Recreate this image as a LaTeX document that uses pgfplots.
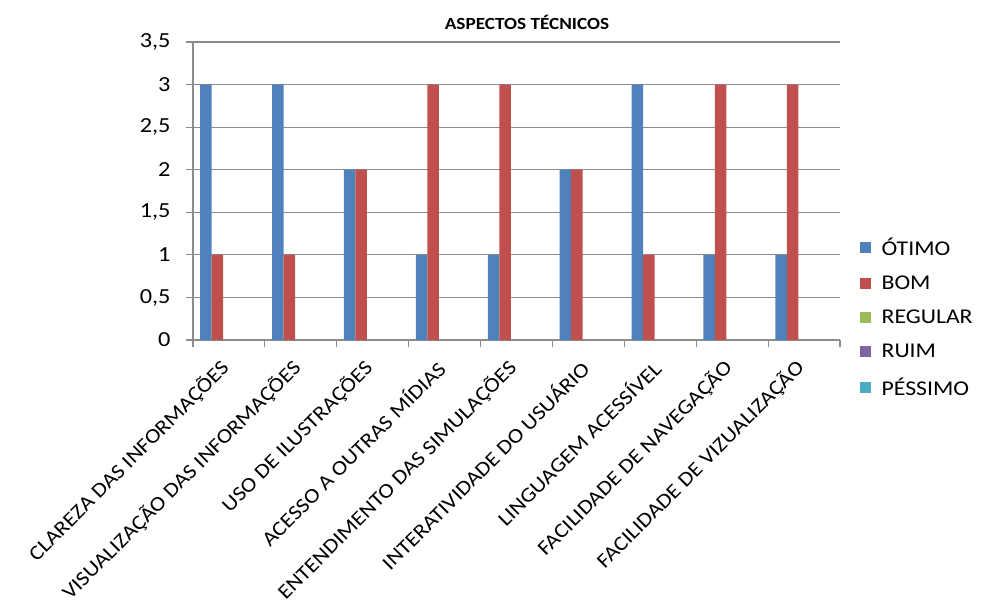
\documentclass[border=0pt]{standalone}
\usepackage{fontspec}
\setmainfont{Carlito}[FakeStretch=1.13]
\usepackage{pgfplots}
\pgfplotsset{compat=1.18}
\definecolor{cA}{HTML}{4F81BD}
\definecolor{cB}{HTML}{C0504D}
\definecolor{cC}{HTML}{9BBB59}
\definecolor{cD}{HTML}{8064A2}
\definecolor{cE}{HTML}{4BACC6}
\definecolor{gridc}{HTML}{8C8C8C}
\pgfplotsset{myleg/.style={legend image code/.code={\fill[##1] (0pt,-5.5pt) rectangle (11pt,5.5pt); \path (0pt,0pt) (20pt,0pt);}}}
\begin{document}
\begin{tikzpicture}[x=1pt,y=1pt]
\useasboundingbox (0,0) rectangle (981,603);
\begin{axis}[
  at={(193pt,263pt)}, anchor=south west,
  width=647pt, height=298pt, scale only axis,
  xmin=0.5, xmax=9.5, ymin=0, ymax=3.5,
  ybar=0pt, bar width=11.5pt,
  axis x line*=bottom, axis y line*=left,
  axis line style={gridc, line width=1.2pt, -},
  ytick={0,0.5,1,1.5,2,2.5,3,3.5},
  ymajorgrids, grid style={gridc, line width=1.2pt},
  tick align=outside, major tick length=7pt,
  tick style={gridc, line width=1.2pt},
  xtick={0.5,1.5,2.5,3.5,4.5,5.5,6.5,7.5,8.5,9.5},
  x tick label as interval,
  xticklabels={CLAREZA DAS INFORMAÇÕES, VISUALIZAÇÃO DAS INFORMAÇÕES, USO DE ILUSTRAÇÕES, ACESSO A OUTRAS MÍDIAS, ENTENDIMENTO DAS SIMULAÇÕES, INTERATIVIDADE DO USUÁRIO, LINGUAGEM ACESSÍVEL, FACILIDADE DE NAVEGAÇÃO, FACILIDADE DE VIZUALIZAÇÃO},
  xticklabel style={xshift=-1pt, yshift=-15pt, rotate=45, anchor=east, font=\fontsize{20.5}{20.5}\selectfont, text=black},
  /pgf/number format/use comma,
  /pgf/number format/assume math mode=true,
  yticklabel style={font=\fontsize{21.5}{21.5}\selectfont, text=black, xshift=-12pt},
  legend style={draw=none, fill=none, at={(1.03,0.35)}, anchor=north west,
    font=\fontsize{21}{23}\selectfont, row sep=15pt, inner sep=0pt},
  legend cell align=left,
]
\addplot[fill=cA, draw=none, myleg] coordinates {(1,3) (2,3) (3,2) (4,1) (5,1) (6,2) (7,3) (8,1) (9,1)};
\addplot[fill=cB, draw=none, myleg] coordinates {(1,1) (2,1) (3,2) (4,3) (5,3) (6,2) (7,1) (8,3) (9,3)};
\addplot[fill=cC, draw=none, myleg] coordinates {(1,0) (2,0) (3,0) (4,0) (5,0) (6,0) (7,0) (8,0) (9,0)};
\addplot[fill=cD, draw=none, myleg] coordinates {(1,0) (2,0) (3,0) (4,0) (5,0) (6,0) (7,0) (8,0) (9,0)};
\addplot[fill=cE, draw=none, myleg] coordinates {(1,0) (2,0) (3,0) (4,0) (5,0) (6,0) (7,0) (8,0) (9,0)};
\legend{ÓTIMO, BOM, REGULAR, RUIM, PÉSSIMO}
\end{axis}
\node[font=\bfseries\fontsize{17}{17}\selectfont] at (527,581) {ASPECTOS TÉCNICOS};
\end{tikzpicture}
\end{document}
